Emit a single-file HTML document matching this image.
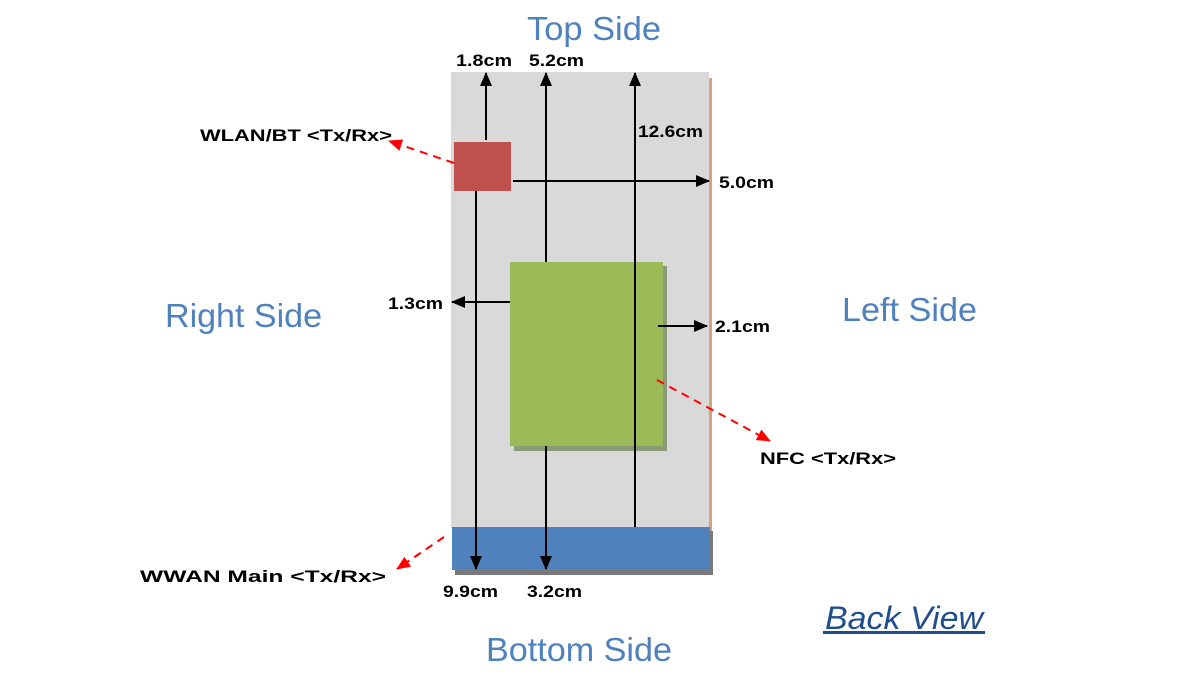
<!DOCTYPE html>
<html><head><style>
html,body{margin:0;padding:0;background:#fff;}
svg{display:block;font-family:"Liberation Sans",Arial,sans-serif;}
</style></head><body>
<svg width="1200" height="675" viewBox="0 0 1200 675" xmlns="http://www.w3.org/2000/svg">
<defs>
<marker id="ab" markerWidth="14" markerHeight="12" refX="13" refY="6" orient="auto" markerUnits="userSpaceOnUse"><path d="M0,0 L14,6 L0,12 z" fill="#000"/></marker>
<marker id="ar" markerWidth="14" markerHeight="12" refX="13" refY="6" orient="auto" markerUnits="userSpaceOnUse"><path d="M0,0 L14,6 L0,12 z" fill="#f00"/></marker>
</defs>
<rect x="709" y="78" width="3" height="496" fill="#d4a27e"/>
<rect x="451" y="72" width="258" height="456" fill="#d9d9d9"/>
<rect x="455" y="531" width="258" height="44" fill="#7a7a7a"/>
<rect x="452" y="527" width="258" height="43" fill="#4f81bd"/>
<rect x="514" y="266" width="153" height="185" fill="#8c9a78"/>
<rect x="510" y="262" width="153" height="184" fill="#9bbb59"/>
<rect x="454" y="142" width="57" height="49" fill="#c0504d"/>
<g stroke="#000" stroke-width="2" fill="none">
<line x1="486" y1="140" x2="486" y2="73" marker-end="url(#ab)"/>
<line x1="546" y1="262" x2="546" y2="73" marker-end="url(#ab)"/>
<line x1="635" y1="527" x2="635" y2="73" marker-end="url(#ab)"/>
<line x1="476" y1="191" x2="476" y2="569" marker-end="url(#ab)"/>
<line x1="546" y1="446" x2="546" y2="569" marker-end="url(#ab)"/>
<line x1="513" y1="181" x2="709" y2="181" marker-end="url(#ab)"/>
<line x1="510" y1="302" x2="452" y2="302" marker-end="url(#ab)"/>
<line x1="658" y1="326" x2="707" y2="326" marker-end="url(#ab)"/>
</g>
<g stroke="#f00" stroke-width="2" stroke-dasharray="8,6" fill="none">
<line x1="454" y1="163" x2="389" y2="141" marker-end="url(#ar)"/>
<line x1="657" y1="380" x2="770" y2="441" marker-end="url(#ar)"/>
<line x1="444" y1="537" x2="397" y2="569" marker-end="url(#ar)"/>
</g>
<g font-weight="bold" font-size="17" fill="#000">
<text x="456" y="66" textLength="56" lengthAdjust="spacingAndGlyphs">1.8cm</text>
<text x="529" y="66" textLength="55" lengthAdjust="spacingAndGlyphs">5.2cm</text>
<text x="638" y="137" textLength="65" lengthAdjust="spacingAndGlyphs">12.6cm</text>
<text x="719" y="188" textLength="55" lengthAdjust="spacingAndGlyphs">5.0cm</text>
<text x="388" y="309" textLength="55" lengthAdjust="spacingAndGlyphs">1.3cm</text>
<text x="715" y="332" textLength="55" lengthAdjust="spacingAndGlyphs">2.1cm</text>
<text x="443" y="597" textLength="55" lengthAdjust="spacingAndGlyphs">9.9cm</text>
<text x="527" y="597" textLength="55" lengthAdjust="spacingAndGlyphs">3.2cm</text>
<text x="200" y="141" textLength="192" lengthAdjust="spacingAndGlyphs">WLAN/BT &lt;Tx/Rx&gt;</text>
<text x="760" y="464" textLength="136" lengthAdjust="spacingAndGlyphs">NFC &lt;Tx/Rx&gt;</text>
<text x="140" y="582" textLength="246" lengthAdjust="spacingAndGlyphs">WWAN Main &lt;Tx/Rx&gt;</text>
</g>
<g fill="#4f81bd" font-size="33">
<text x="527" y="40" textLength="134" lengthAdjust="spacingAndGlyphs">Top Side</text>
<text x="165" y="327" textLength="157" lengthAdjust="spacingAndGlyphs">Right Side</text>
<text x="842" y="321" textLength="135" lengthAdjust="spacingAndGlyphs">Left Side</text>
<text x="486" y="661" textLength="186" lengthAdjust="spacingAndGlyphs">Bottom Side</text>
</g>
<text x="825" y="629" font-size="32" font-style="italic" fill="#1f4e8c" textLength="158" lengthAdjust="spacingAndGlyphs">Back View</text>
<rect x="823" y="631" width="162" height="3" fill="#1f4e8c"/>
</svg>
</body></html>
